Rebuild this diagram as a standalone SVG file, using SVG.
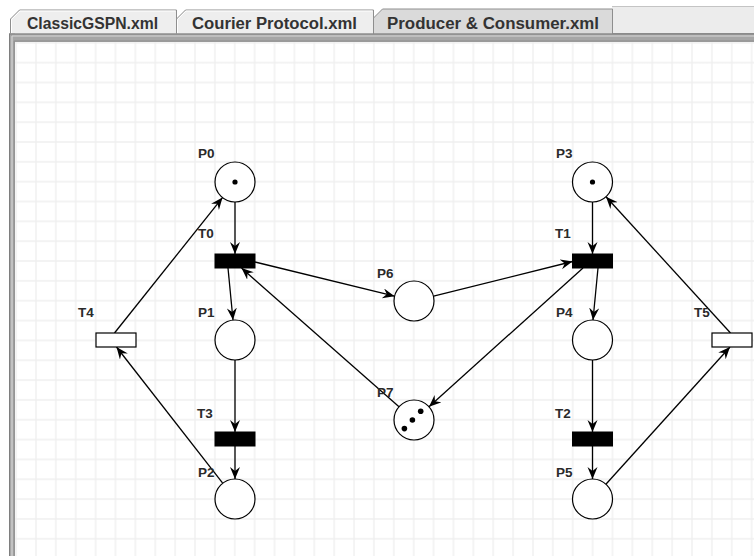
<svg xmlns="http://www.w3.org/2000/svg" width="754" height="556" viewBox="0 0 754 556">
<style>
.tabtxt{font-family:"Liberation Sans",Arial,sans-serif;font-weight:bold;font-size:16px;fill:#333}
.lbl{font-family:"Liberation Sans",Arial,sans-serif;font-weight:bold;font-size:13.5px;fill:#2a2a2a}
.place{fill:#fff;stroke:#000;stroke-width:1.2}
.trans{fill:#000;stroke:#000;stroke-width:1}
.itrans{fill:#fff;stroke:#000;stroke-width:1.2}
.arc{fill:none;stroke:#000;stroke-width:1.3;marker-end:url(#ah)}
.tok{fill:#000}
</style>
<defs>
<marker id="ah" markerUnits="userSpaceOnUse" markerWidth="14" markerHeight="12" refX="12" refY="5" orient="auto">
<path d="M0,0 L12,5 L0,10 L4,5 z" fill="#000"/>
</marker>
<pattern id="grid" patternUnits="userSpaceOnUse" x="15.1" y="41.8" width="19.88" height="19.84">
<path d="M1,0 V19.84 M0,1 H19.88" stroke="#efefef" stroke-width="1.3" fill="none"/>
</pattern>
</defs>
<!-- window background -->
<rect x="0" y="0" width="754" height="556" fill="#ffffff"/>
<rect x="612" y="6.5" width="142" height="27" fill="#ececec"/>
<line x1="612" y1="6.5" x2="754" y2="6.5" stroke="#c4c4c4" stroke-width="1"/>
<!-- tabs -->
<g id="tab1">
<path d="M10.5,33.5 V19 L19.5,10 H176.5 V33.5" fill="#eeeeee" stroke="#8e8e8e" stroke-width="1"/>
<path d="M11.5,33 V19.5 L20,11 H175.5" fill="none" stroke="#ffffff" stroke-width="1"/>
<text class="tabtxt" x="27" y="29" textLength="131" lengthAdjust="spacingAndGlyphs">ClassicGSPN.xml</text>
</g>
<g id="tab2">
<path d="M176.5,33.5 V19 L185.5,10 H373.5 V33.5" fill="#eeeeee" stroke="#8e8e8e" stroke-width="1"/>
<path d="M177.5,33 V19.5 L186,11 H372.5" fill="none" stroke="#ffffff" stroke-width="1"/>
<text class="tabtxt" x="192" y="29" textLength="165" lengthAdjust="spacingAndGlyphs">Courier Protocol.xml</text>
</g>
<g id="tab3">
<path d="M373.5,34 V18 L382.5,9 H612.5 V34" fill="#dadada" stroke="#8e8e8e" stroke-width="1"/>
<text class="tabtxt" x="387" y="29" textLength="212" lengthAdjust="spacingAndGlyphs">Producer &amp; Consumer.xml</text>
</g>
<line x1="612" y1="33.5" x2="754" y2="33.5" stroke="#8a8a8a" stroke-width="1"/>
<!-- canvas border -->
<rect x="9" y="33.5" width="745" height="9" fill="#a6a6a6"/>
<rect x="9" y="33.5" width="6" height="522.5" fill="#a6a6a6"/>
<line x1="9" y1="34" x2="754" y2="34" stroke="#7e7e7e" stroke-width="1"/>
<line x1="9.5" y1="34" x2="9.5" y2="556" stroke="#7e7e7e" stroke-width="1"/>
<line x1="12" y1="36" x2="754" y2="36" stroke="#d6d6d6" stroke-width="1.2"/>
<line x1="12" y1="36" x2="12" y2="556" stroke="#d6d6d6" stroke-width="1.2"/>
<line x1="14" y1="41" x2="754" y2="41" stroke="#8e8e8e" stroke-width="1"/>
<line x1="14.2" y1="41" x2="14.2" y2="556" stroke="#8e8e8e" stroke-width="1"/>
<!-- canvas -->
<rect x="15" y="42" width="739" height="514" fill="#ffffff"/>
<rect x="15" y="42" width="739" height="514" fill="url(#grid)"/>
<!-- connectors -->
<g id="arcs">
<path class="arc" d="M235,202 L235,254"/>
<path class="arc" d="M228,268 L233,320"/>
<path class="arc" d="M255,262 L394.6,296.2"/>
<path class="arc" d="M433.6,296.2 L572.5,261.5"/>
<path class="arc" d="M583,268 L429,406.7"/>
<path class="arc" d="M399,406.8 L241.5,268"/>
<path class="arc" d="M598,268 L593,320"/>
<path class="arc" d="M592.5,202 L592.5,254"/>
<path class="arc" d="M235,360 L235,432"/>
<path class="arc" d="M235,446 L235,479"/>
<path class="arc" d="M592.5,360 L592.5,432"/>
<path class="arc" d="M592.5,446 L592.5,479"/>
<path class="arc" d="M222.7,483.2 L116.5,347"/>
<path class="arc" d="M114.5,333 L222.5,197.6"/>
<path class="arc" d="M605.9,484.2 L730,347"/>
<path class="arc" d="M730.5,333 L606,196.7"/>
</g>
<!-- places -->
<g id="P0"><circle class="place" cx="235" cy="182" r="20"/><circle class="tok" cx="235" cy="182" r="2.6"/><text class="lbl" x="198" y="158">P0</text></g>
<g id="P1"><circle class="place" cx="235" cy="340" r="20"/><text class="lbl" x="198" y="317">P1</text></g>
<g id="P2"><circle class="place" cx="235" cy="499" r="20"/><text class="lbl" x="198" y="477">P2</text></g>
<g id="P3"><circle class="place" cx="592.5" cy="182" r="20"/><circle class="tok" cx="592.5" cy="182" r="2.6"/><text class="lbl" x="556" y="158">P3</text></g>
<g id="P4"><circle class="place" cx="592.5" cy="340" r="20"/><text class="lbl" x="556" y="317">P4</text></g>
<g id="P5"><circle class="place" cx="592.5" cy="499" r="20"/><text class="lbl" x="556" y="477">P5</text></g>
<g id="P6"><circle class="place" cx="414" cy="301" r="20"/><text class="lbl" x="377" y="278">P6</text></g>
<g id="P7"><circle class="place" cx="414" cy="420" r="20"/><circle class="tok" cx="420.7" cy="411.3" r="2.8"/><circle class="tok" cx="412.4" cy="420" r="2.8"/><circle class="tok" cx="404.4" cy="428.6" r="2.8"/><text class="lbl" x="377" y="397">P7</text></g>
<!-- transitions -->
<g id="T0"><rect class="trans" x="215" y="254" width="40" height="14"/><text class="lbl" x="198" y="238">T0</text></g>
<g id="T1"><rect class="trans" x="572.5" y="254" width="40" height="14"/><text class="lbl" x="555" y="238">T1</text></g>
<g id="T2"><rect class="trans" x="572.5" y="432" width="40" height="14"/><text class="lbl" x="555" y="418">T2</text></g>
<g id="T3"><rect class="trans" x="215" y="432" width="40" height="14"/><text class="lbl" x="197" y="418">T3</text></g>
<g id="T4"><rect class="itrans" x="96" y="333" width="40" height="14"/><text class="lbl" x="78" y="317">T4</text></g>
<g id="T5"><rect class="itrans" x="712" y="333" width="40" height="14"/><text class="lbl" x="694" y="317">T5</text></g>
</svg>
